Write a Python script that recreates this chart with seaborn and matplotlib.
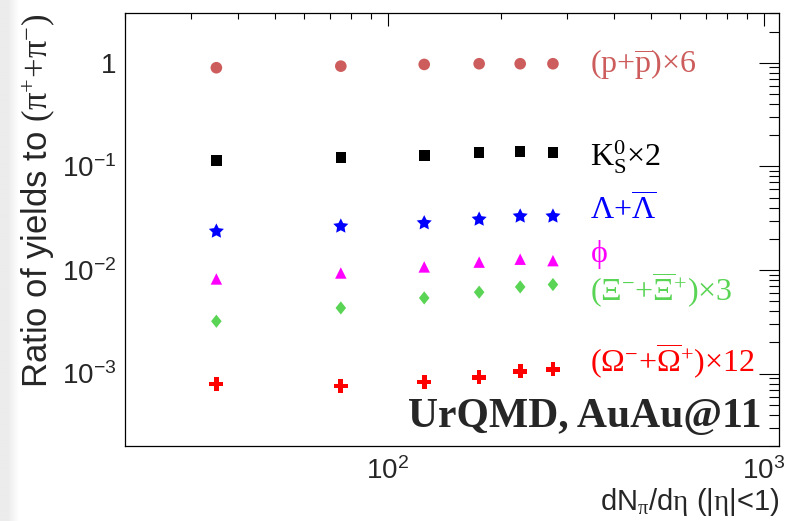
import numpy as np
import pandas as pd
import seaborn as sns
import matplotlib
matplotlib.use("Agg")
import matplotlib.pyplot as plt
from matplotlib.ticker import FixedLocator, FuncFormatter, LogLocator, NullFormatter
from matplotlib.path import Path

# Charged-pion multiplicity bins
dn_deta = [35, 75, 125, 175, 225, 275]

# Particle-to-pion ratios (already multiplied by the factor in each label)
proton_x6 = [0.895, 0.927, 0.963, 0.978, 0.978, 0.978]
kaon0s_x2 = [0.114, 0.122, 0.128, 0.136, 0.139, 0.136]
lambda_sum = [0.0236, 0.0264, 0.0284, 0.0308, 0.0330, 0.0330]
phi_meson = [0.00819, 0.00935, 0.0107, 0.0119, 0.0127, 0.0123]
xi_x3 = [0.00320, 0.00430, 0.00537, 0.00610, 0.00686, 0.00723]
omega_x12 = [0.00079, 0.00076, 0.00083, 0.00092, 0.00105, 0.00110]

series_names = ["p", "K0S", "Lambda", "phi", "Xi", "Omega"]
series_values = [proton_x6, kaon0s_x2, lambda_sum, phi_meson, xi_x3, omega_x12]
series_labels = [
    r"$\mathrm{(p{+}\overline{p}){\times}6}$",
    r"$\mathrm{K_{S}^{0}{\times}2}$",
    r"$\mathrm{\Lambda{+}\overline{\Lambda}}$",
    r"$\mathrm{\phi}$",
    r"$\mathrm{(\Xi^{-}{+}\overline{\Xi}^{+}){\times}3}$",
    r"$\mathrm{(\Omega^{-}{+}\overline{\Omega}^{+}){\times}12}$",
]

colors = ["#cd5c5c", "#000000", "#0000ff", "#ff00ff", "#59d454", "#ff0000"]


def closed_path(pts):
    pts = list(pts) + [pts[0]]
    codes = [Path.MOVETO] + [Path.LINETO] * (len(pts) - 2) + [Path.CLOSEPOLY]
    return Path(pts, codes)


# chunky five-point star and a wide diamond
angles = np.pi / 2 + np.arange(10) * np.pi / 5
radii = np.where(np.arange(10) % 2 == 0, 1.0, 0.5)
fat_star = closed_path(list(zip(radii * np.cos(angles), radii * np.sin(angles))))
fat_diamond = closed_path([(0, 1), (0.8, 0), (0, -1), (-0.8, 0)])

markers = ["o", "s", fat_star, "^", fat_diamond, "P"]
marker_areas = [70, 58, 130, 68, 90, 100]
# label baseline positions in axes fraction
label_y = [0.8627, 0.6455, 0.5223, 0.4252, 0.3351, 0.1694]

frames = []
for name, vals in zip(series_names, series_values):
    frames.append(pd.DataFrame({"dNdeta": dn_deta, "ratio": vals, "species": name}))
df = pd.concat(frames, ignore_index=True)

sns.set_style("white")
plt.rcParams["font.family"] = ["Liberation Sans", "DejaVu Sans"]
plt.rcParams["mathtext.fontset"] = "custom"
plt.rcParams["mathtext.rm"] = "Liberation Serif"
plt.rcParams["mathtext.it"] = "Liberation Serif:italic"
plt.rcParams["mathtext.bf"] = "Liberation Serif:bold"
plt.rcParams["mathtext.sf"] = "Liberation Sans"

fig = plt.figure(figsize=(7.86, 5.21), dpi=100)
fig.patch.set_facecolor("white")

# soft grey strip along the left border
strip = fig.add_axes([0, 0, 20 / 786, 1])
grad = np.concatenate([np.full(8, 0.925), np.linspace(0.925, 1.0, 12)])
strip.imshow(np.tile(grad, (10, 1)), cmap="gray", vmin=0, vmax=1, aspect="auto",
             interpolation="bilinear")
strip.set_axis_off()

ax = fig.add_axes([125 / 786, 1 - 446 / 521, 654.3 / 786, 432.7 / 521])

for name, col, mk, s in zip(series_names, colors, markers, marker_areas):
    sns.scatterplot(data=df[df["species"] == name], x="dNdeta", y="ratio",
                    color=col, marker=mk, s=s, linewidth=0, edgecolor="none",
                    legend=False, ax=ax, zorder=3)

ax.set_xscale("log")
ax.set_yscale("log")
ax.set_xlim(20, 1100)
ax.set_ylim(2e-4, 3.0)


def log_label(v, pos):
    if np.isclose(v, 1.0):
        return "1"
    return r"$\mathdefault{10^{%d}}$" % int(round(np.log10(v)))


ax.xaxis.set_major_locator(FixedLocator([100, 1000]))
ax.yaxis.set_major_locator(FixedLocator([1e-3, 1e-2, 1e-1, 1]))
ax.xaxis.set_major_formatter(FuncFormatter(log_label))
ax.yaxis.set_major_formatter(FuncFormatter(log_label))
ax.xaxis.set_minor_locator(LogLocator(base=10, subs=np.arange(2, 10), numticks=20))
ax.yaxis.set_minor_locator(LogLocator(base=10, subs=np.arange(2, 10), numticks=20))
ax.xaxis.set_minor_formatter(NullFormatter())
ax.yaxis.set_minor_formatter(NullFormatter())

ax.tick_params(axis="both", which="both", direction="in", top=True, right=True,
               color="black", width=0.8, labelsize=20)
ax.tick_params(axis="y", which="major", length=14.4, pad=6)
ax.tick_params(axis="y", which="minor", length=7.2)
ax.tick_params(axis="x", which="major", length=9.4, pad=8)
ax.tick_params(axis="x", which="minor", length=4.3)
for sp in ax.spines.values():
    sp.set_color("black")
    sp.set_linewidth(0.9)

ax.set_xlabel(r"dN$_{\mathrm{\pi}}$/d$\mathrm{\eta}$ (|$\mathrm{\eta}$|<1)",
              fontsize=21, loc="right", labelpad=1)
ax.set_ylabel(r"Ratio of yields to $\mathrm{(\pi^{+}{+}\pi^{-})}$",
              fontsize=25, loc="top", labelpad=4)

for text, col, yb in zip(series_labels, colors, label_y):
    ax.text(0.7107, yb, text, color=col, fontsize=23, transform=ax.transAxes,
            ha="left", va="baseline")

ax.text(0.9735, 0.0439, "UrQMD, AuAu@11", fontsize=30, fontweight="bold",
        family="Liberation Serif", transform=ax.transAxes, ha="right", va="baseline")

fig.savefig("out.png", dpi=100)
